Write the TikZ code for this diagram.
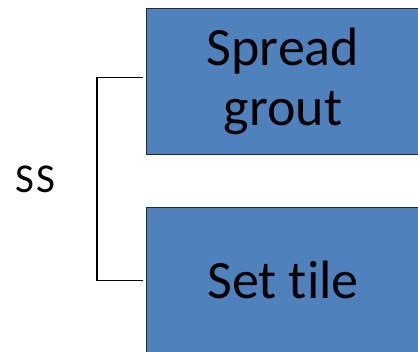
\documentclass[tikz,border=0pt]{standalone}
\usepackage{fontspec}
\setmainfont[Ligatures=NoCommon]{Carlito}
\usetikzlibrary{positioning}
\definecolor{taskblue}{HTML}{4F81BD}
\definecolor{taskline}{HTML}{1C2A3A}
\tikzset{
    task/.style={draw=taskline, line width=1.2pt, fill=taskblue, minimum width=300pt},
    tasktext/.style={align=center, font=\fontsize{54}{60}\selectfont},
    bracket/.style={line width=1.5pt},
}
\begin{document}
\begin{tikzpicture}[x=1pt, y=-1pt]
    \useasboundingbox (0,0) rectangle (418,352);
    \clip (0,0) rectangle (418,352);
    \node [task, anchor=north west, minimum height=146pt] (spread) at (146,8) {};
    \node [task, below=52pt of spread, minimum height=145pt] (settile) {};
    \node [tasktext] (spreadtext) at ([xshift=137pt]spread.west) {Spread\\grout};
    \node [tasktext] (settiletext) at ([xshift=137pt]settile.west) {Set tile};
    \coordinate (brk) at (97,177);
    \node [font=\fontsize{41}{46}\selectfont\addfontfeature{LetterSpace=4}] (ss) at (35.5,179.5) {SS};

    %\draw [red] (spread.west) -- (settile.west);
    \draw [bracket] ([xshift=-3pt, yshift=4pt]spread.west) -| (brk) |- ([xshift=-3pt]settile.west);
\end{tikzpicture}
\end{document}
